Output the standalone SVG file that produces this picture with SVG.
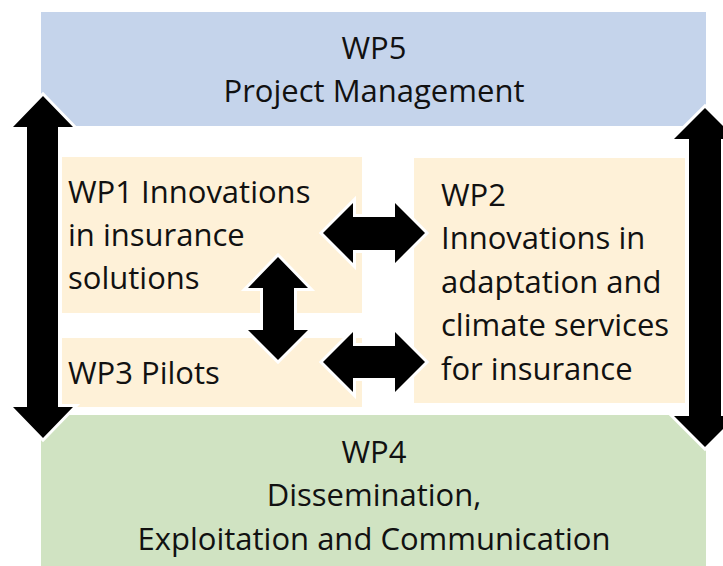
<svg xmlns="http://www.w3.org/2000/svg" width="723" height="566" viewBox="0 0 723 566">
  <style>
    .box-wp5 { fill: #c5d4eb; }
    .box-wp4 { fill: #d0e3c2; }
    .box-task { fill: #fef1d8; }
    .label { font-family: "Open Sans", "Liberation Sans", sans-serif; font-size: 31px; fill: #111111; }
    .mid { text-anchor: middle; }
    .arrow { fill: #000000; stroke: #ffffff; stroke-width: 6; stroke-linejoin: miter; paint-order: stroke; }
  </style>

  <rect x="0" y="0" width="723" height="566" fill="#ffffff"/>

  <!-- Work package boxes -->
  <g id="wp5">
    <rect class="box-wp5" x="41" y="12" width="665" height="114"/>
    <text class="label mid" x="374" y="59">WP5</text>
    <text class="label mid" x="374" y="102">Project Management</text>
  </g>

  <g id="wp4">
    <rect class="box-wp4" x="41" y="415" width="665" height="151"/>
    <text class="label mid" x="374" y="463">WP4</text>
    <text class="label mid" x="374" y="506">Dissemination,</text>
    <text class="label mid" x="374" y="550">Exploitation and Communication</text>
  </g>

  <g id="wp1">
    <rect class="box-task" x="62" y="157" width="300" height="156"/>
    <text class="label" x="68" y="203">WP1 Innovations</text>
    <text class="label" x="68" y="246">in insurance</text>
    <text class="label" x="68" y="289">solutions</text>
  </g>

  <g id="wp3">
    <rect class="box-task" x="62" y="338" width="300" height="69"/>
    <text class="label" x="68" y="384">WP3 Pilots</text>
  </g>

  <g id="wp2">
    <rect class="box-task" x="414" y="158" width="271" height="245"/>
    <text class="label" x="441" y="206">WP2</text>
    <text class="label" x="441" y="249">Innovations in</text>
    <text class="label" x="441" y="293">adaptation and</text>
    <text class="label" x="441" y="336">climate services</text>
    <text class="label" x="441" y="380">for insurance</text>
  </g>

  <!-- Double-headed block arrows linking the work packages -->
  <g id="connectors">
    <!-- WP5 <-> WP4, left side -->
    <polygon class="arrow" points="43,96 73,127 58,127 58,407 73,407 43,438 13,407 27,407 27,127 13,127"/>
    <!-- WP5 <-> WP4, right side -->
    <polygon class="arrow" points="705,108 736,139 721,139 721,416 736,416 705,447 674,416 689,416 689,139 674,139"/>
    <!-- WP1 <-> WP2 -->
    <polygon class="arrow" points="323,233 353,203 353,217 395,217 395,203 425,233 395,263 395,250 353,250 353,263"/>
    <!-- WP3 <-> WP2 -->
    <polygon class="arrow" points="323,362 353,332 353,346 395,346 395,332 425,362 395,392 395,378 353,378 353,392"/>
    <!-- WP1 <-> WP3 -->
    <polygon class="arrow" points="278,257 308,288 294,288 294,330 308,330 278,360 248,330 263,330 263,288 248,288"/>
  </g>
</svg>
